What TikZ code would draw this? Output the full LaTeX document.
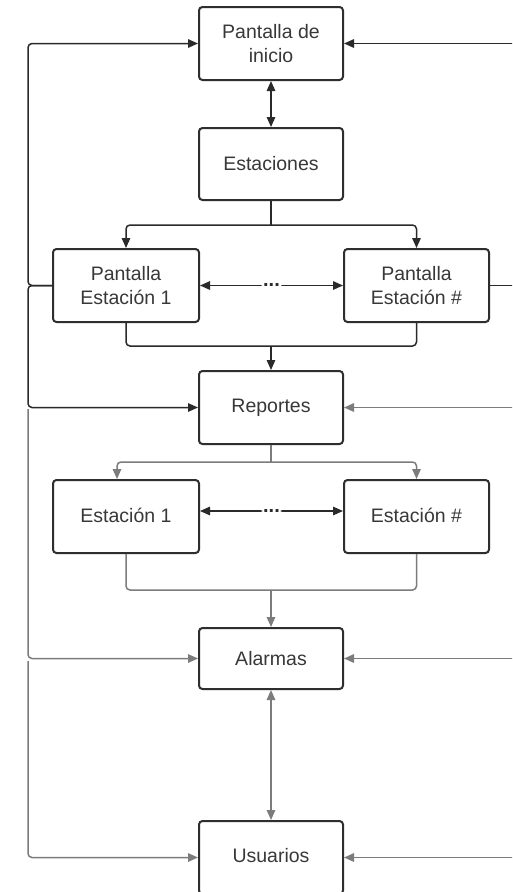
\documentclass[tikz,border=0pt]{standalone}
\usepackage{fontspec}
\setmainfont{Liberation Sans}
\usetikzlibrary{arrows.meta}
\definecolor{ink}{HTML}{2E2E2E}
\definecolor{label}{HTML}{383838}
\definecolor{linkdark}{HTML}{2A2A2A}
\definecolor{linkgray}{HTML}{7C7C7C}
\begin{document}
\begin{tikzpicture}[x=1pt,y=-1pt,
  box/.style={draw=ink, line width=2pt, rounded corners=3.5pt, fill=white,
    minimum width=144pt, minimum height=73pt, inner sep=2pt, align=center,
    text=label, font=\fontsize{19.5}{23.5}\selectfont},
  tip/.style={-{Triangle[length=10pt,width=8.5pt]}},
  both/.style={{Triangle[length=10pt,width=8.5pt]}-{Triangle[length=10pt,width=8.5pt]}},
  dark/.style={draw=linkdark, line width=1.5pt, rounded corners=4pt},
  gray/.style={draw=linkgray, line width=1.5pt, rounded corners=4pt},
  dots/.style={fill=white, inner sep=1.5pt, text=linkdark,
    font=\fontsize{20}{20}\selectfont\bfseries}]
\clip (0,0) rectangle (512,892);
\fill[white] (0,0) rectangle (512,892);

% screens
\node[box] (inicio) at (271,43.5) {Pantalla de\\inicio};
\node[box, minimum height=72pt] (est) at (271,164) {Estaciones};
\node[box, minimum width=146pt] (pe1) at (126,285.5) {Pantalla\\Estación 1};
\node[box, minimum width=145pt] (pen) at (416.5,285.5) {Pantalla\\Estación \#};
\node[box] (rep) at (271,407.5) {Reportes};
\node[box, minimum width=146pt] (e1) at (126,516.5) {\raisebox{2pt}{Estación 1}};
\node[box, minimum width=145pt] (en) at (416.5,516.5) {\raisebox{2pt}{Estación \#}};
\node[box, minimum height=61pt] (alarm) at (271,658.5) {Alarmas};
\node[box] (usu) at (271,857.5) {\raisebox{4pt}{Usuarios}};

% junction points
\coordinate (b1) at (271,225);
\coordinate (m1) at (271,346);
\coordinate (b2) at (271,462);
\coordinate (m2) at (271,590);
\coordinate (lt) at (28,409);
\coordinate (lu) at (28,661);
\coordinate (rInicio) at (513,43.5);
\coordinate (rPen) at (513,285.5);
\coordinate (rRep) at (513,407.5);
\coordinate (rAlarm) at (513,658.5);
\coordinate (rUsu) at (513,857.5);

% inicio <-> estaciones and the station screens
\draw[dark, both] (inicio.south) -- (est.north);
\draw[dark] (est.south) -- (b1);
\draw[dark, tip] (b1) -| (pe1.north);
\draw[dark, tip] (b1) -| (pen.north);
\draw[dark, both] (pe1.east) -- node[dots] {...} (pen.west);
\draw[dark] (pe1.south) |- (m1);
\draw[dark] (pen.south) |- (m1);
\draw[dark, tip] (m1) -- (rep.north);

% left trunk
\draw[dark, tip] (pe1.west) -| (28,200) |- (inicio.west);
\draw[dark, tip] (pe1.west) -| (28,360) |- (rep.west);
\draw[gray, tip] (lt) |- (alarm.west);
\draw[gray, tip] (lu) |- (usu.west);

% right trunk
\draw[dark, tip] (rInicio) -- (inicio.east);
\draw[dark] (pen.east) -- (rPen);
\draw[gray, tip] (rRep) -- (rep.east);
\draw[gray, tip] (rAlarm) -- (alarm.east);
\draw[gray, tip] (rUsu) -- (usu.east);

% reports
\draw[gray] (rep.south) -- (b2);
\draw[gray, tip] (b2) -| ([xshift=-9pt]e1.north);
\draw[gray, tip] (b2) -| (en.north);
\draw[dark, both] ([yshift=5.5pt]e1.east) -- node[dots] {...} ([yshift=5.5pt]en.west);
\draw[gray] (e1.south) |- (m2);
\draw[gray] (en.south) |- (m2);
\draw[gray, tip] (m2) -- (alarm.north);

% alarms <-> users
\draw[gray, both] (alarm.south) -- (usu.north);
\end{tikzpicture}
\end{document}
